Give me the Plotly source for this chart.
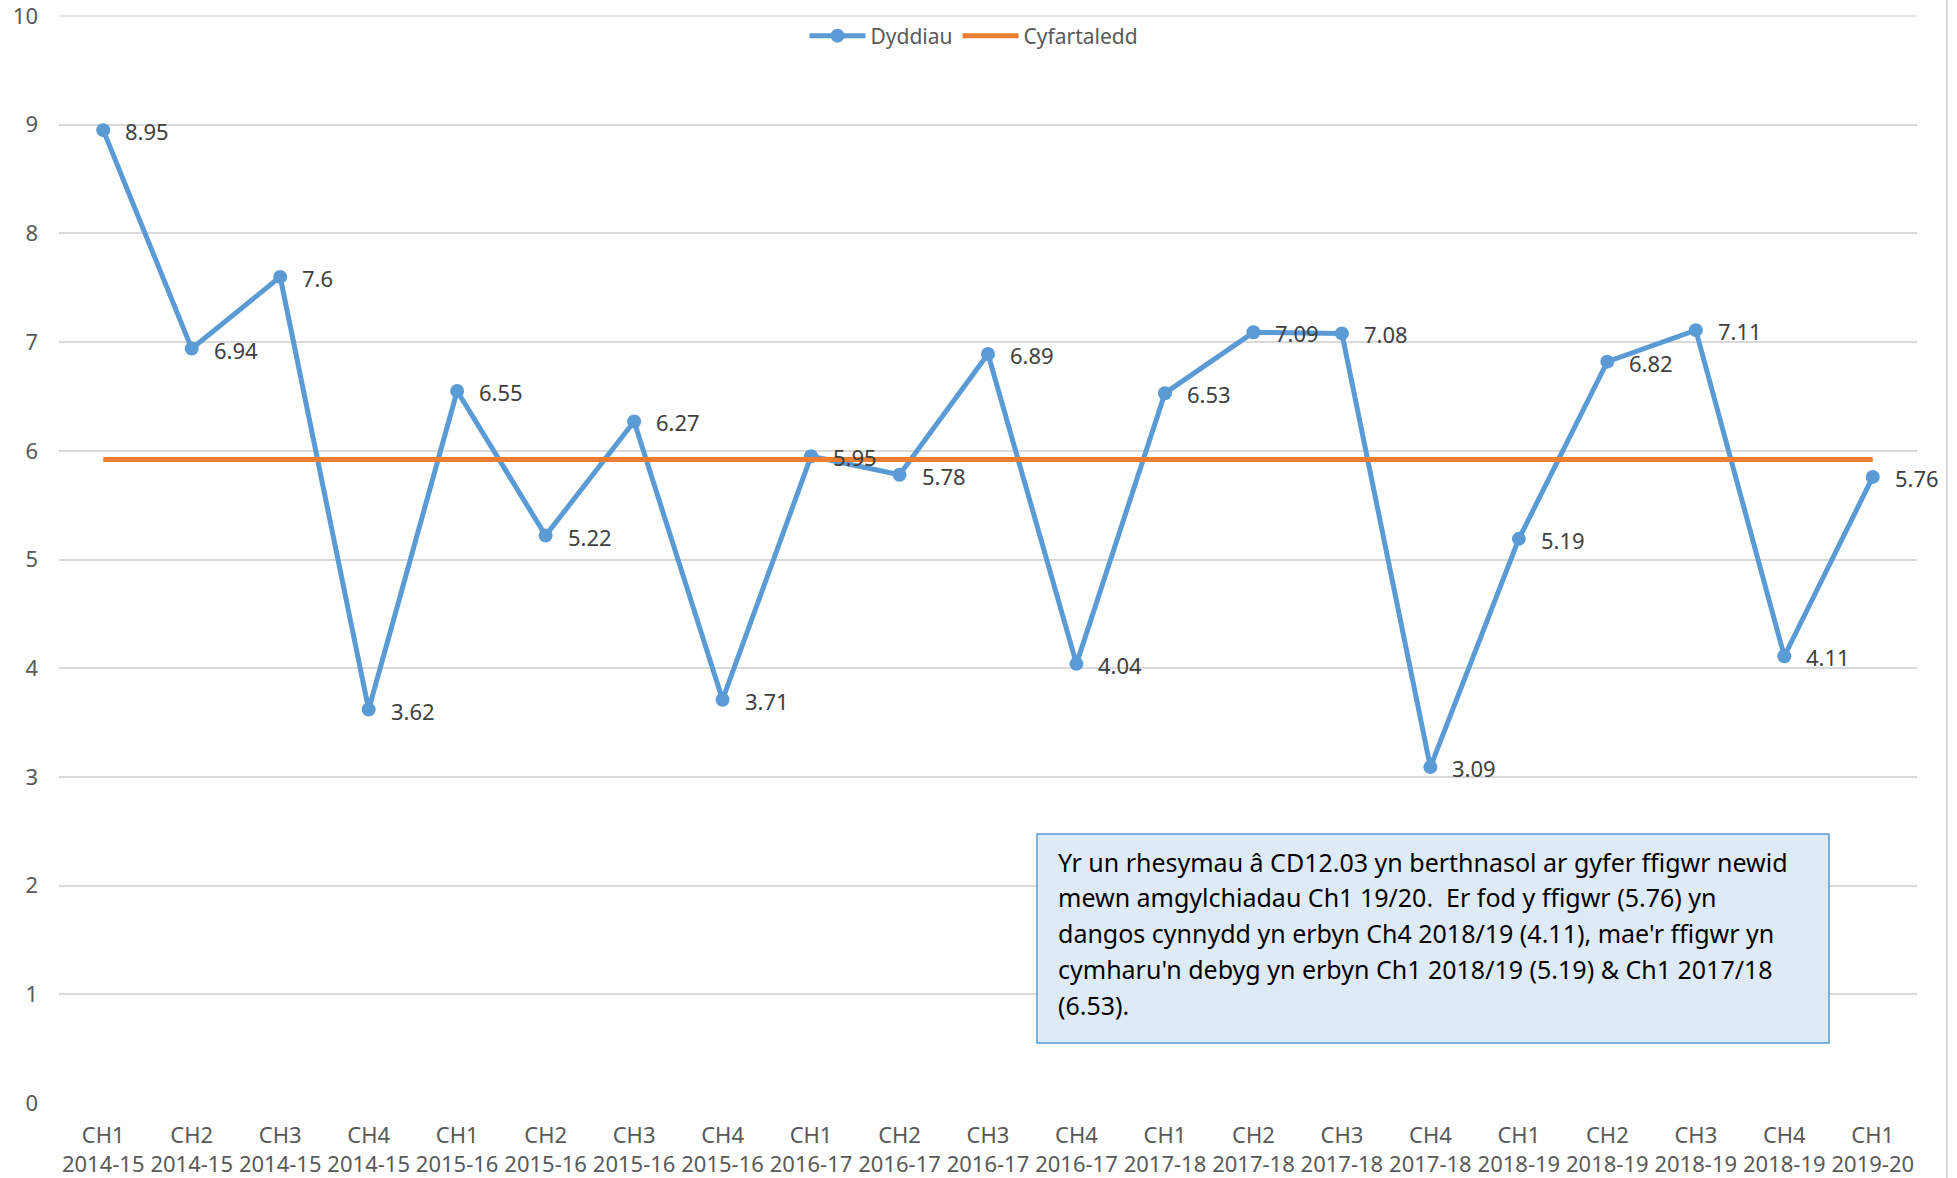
import plotly.graph_objects as go

quarters = ["CH1", "CH2", "CH3", "CH4", "CH1", "CH2", "CH3", "CH4", "CH1", "CH2", "CH3",
            "CH4", "CH1", "CH2", "CH3", "CH4", "CH1", "CH2", "CH3", "CH4", "CH1"]
years = ["2014-15", "2014-15", "2014-15", "2014-15", "2015-16", "2015-16", "2015-16", "2015-16",
         "2016-17", "2016-17", "2016-17", "2016-17", "2017-18", "2017-18", "2017-18", "2017-18",
         "2018-19", "2018-19", "2018-19", "2018-19", "2019-20"]
dyddiau = [8.95, 6.94, 7.6, 3.62, 6.55, 5.22, 6.27, 3.71, 5.95, 5.78, 6.89,
           4.04, 6.53, 7.09, 7.08, 3.09, 5.19, 6.82, 7.11, 4.11, 5.76]
cyfartaledd = [5.92, 5.92, 5.92, 5.92, 5.92, 5.92, 5.92, 5.92, 5.92, 5.92, 5.92,
               5.92, 5.92, 5.92, 5.92, 5.92, 5.92, 5.92, 5.92, 5.92, 5.92]
note_lines = [
    "Yr un rhesymau â CD12.03 yn berthnasol ar gyfer ffigwr newid",
    "mewn amgylchiadau Ch1 19/20.\u00a0 Er fod y ffigwr (5.76) yn",
    "dangos cynnydd yn erbyn Ch4 2018/19 (4.11), mae'r ffigwr yn",
    "cymharu'n debyg yn erbyn Ch1 2018/19 (5.19) & Ch1 2017/18",
    "(6.53).",
]

cats = [f"{q}<br>{y}" for q, y in zip(quarters, years)]
FONT = "Noto Sans"
BLUE = "#5B9BD5"
ORANGE = "#ED7D31"

fig = go.Figure()
fig.add_trace(go.Scatter(
    x=cats, y=dyddiau, name="Dyddiau", mode="lines+markers",
    line=dict(color=BLUE, width=5), marker=dict(color=BLUE, size=14),
))
fig.add_trace(go.Scatter(
    x=cats, y=cyfartaledd, name="Cyfartaledd", mode="lines",
    line=dict(color=ORANGE, width=5),
))

annotations = []
for c, v in zip(cats, dyddiau):
    annotations.append(dict(
        x=c, y=v, xref="x", yref="y", text=f"{v:g}", showarrow=False,
        xanchor="left", yanchor="middle", xshift=20, yshift=-1,
        font=dict(family=FONT, size=22, color="#404040"),
    ))

# body margin is removed below, so the figure fills the page from (0, 0)
W, H = 1957, 1178
PL, PR, PT, PB = 59, 1917, 16, 1103  # plot area in page pixels
ml, mr, mt, mb = PL, W - PR, PT, H - PB
pw, ph = PR - PL, PB - PT

def px_x(px):
    return (px - PL) / pw

def px_y(py):
    return 1 - (py - PT) / ph

shapes = [
    dict(type="rect", xref="paper", yref="paper",
         x0=px_x(1037), x1=px_x(1829), y0=px_y(1043), y1=px_y(834),
         fillcolor="#DEEBF7", line=dict(color=BLUE, width=1.5), layer="above"),
    dict(type="line", xref="paper", yref="paper",
         x0=px_x(1947), x1=px_x(1947), y0=px_y(1178), y1=px_y(0),
         line=dict(color="#D9D9D9", width=2)),
    dict(type="line", xref="paper", yref="paper",
         x0=0, x1=1, y0=1, y1=1, layer="below",
         line=dict(color="#D9D9D9", width=1.5)),
]
line_y = [862, 897, 933, 969, 1005]
for t, ly in zip(note_lines, line_y):
    annotations.append(dict(
        x=px_x(1056), y=px_y(ly), xref="paper", yref="paper", text=t,
        showarrow=False, xanchor="left", yanchor="middle",
        font=dict(family=FONT, size=25, color="#000000"),
    ))

fig.update_layout(
    width=W, height=H,
    margin=dict(l=ml, r=mr, t=mt, b=mb, pad=0, autoexpand=False),
    paper_bgcolor="white", plot_bgcolor="white",
    font=dict(family=FONT, size=21, color="#595959"),
    showlegend=True,
    legend=dict(orientation="h", x=px_x(974), xanchor="center", y=px_y(36), yanchor="middle",
                bgcolor="rgba(0,0,0,0)", font=dict(family=FONT, size=21, color="#595959"),
                itemwidth=56),
    xaxis=dict(type="category", range=[-0.5, 20.5], showgrid=False, zeroline=False,
               showline=False, ticks="", automargin=False, ticklabelstandoff=17,
               ticklabeloverflow="allow",
               tickfont=dict(family=FONT, size=22, color="#595959")),
    yaxis=dict(range=[0, 10], dtick=1, showgrid=True, gridcolor="#D9D9D9", gridwidth=1.5,
               zeroline=False, showline=False, ticks="", ticklabelstandoff=20, automargin=False,
               ticklabeloverflow="allow",
               tickfont=dict(family=FONT, size=22, color="#595959")),
    annotations=annotations, shapes=shapes,
)
fig.write_html("out.html", config={"displayModeBar": False},
               post_script="document.body.style.margin='0px';document.body.style.overflow='hidden';")
